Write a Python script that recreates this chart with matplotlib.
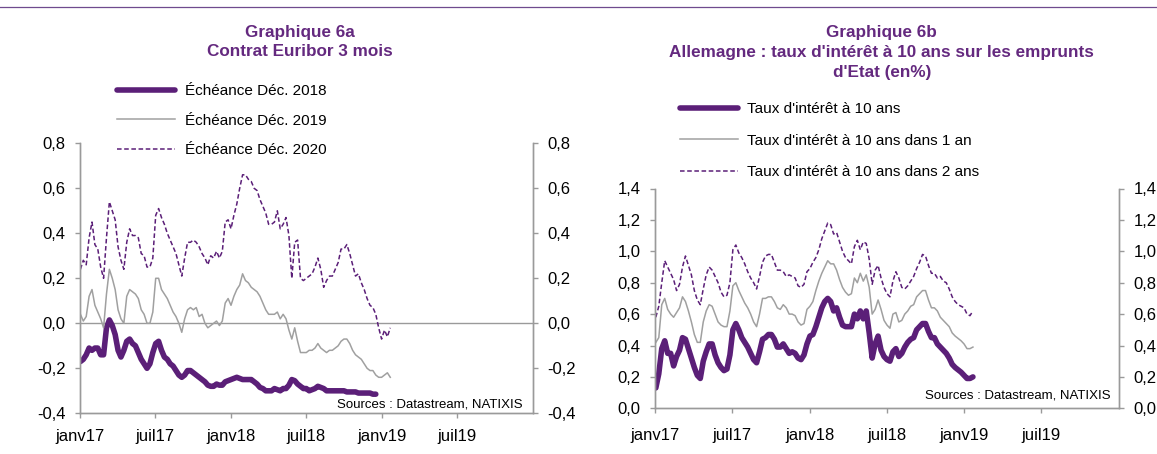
import numpy as np
import pandas as pd
import matplotlib
matplotlib.use('Agg')
import matplotlib.pyplot as plt
from matplotlib.lines import Line2D
from matplotlib.ticker import FuncFormatter, MultipleLocator

plt.rcParams['font.family'] = ['Liberation Sans', 'DejaVu Sans']

# ---------------- data ----------------
dates = pd.date_range('2017-01-02', periods=108, freq='7D')

# Graphique 6a : Contrat Euribor 3 mois
euribor_dec2018 = [
    -0.17, -0.16, -0.14, -0.11, -0.12, -0.11, -0.11, -0.14, -0.14, -0.02,
    0.015, -0.01, -0.05, -0.12, -0.15, -0.12, -0.08, -0.07, -0.09, -0.10,
    -0.13, -0.16, -0.18, -0.20, -0.18, -0.13, -0.09, -0.08, -0.12, -0.15,
    -0.16, -0.18, -0.19, -0.21, -0.23, -0.24, -0.23, -0.21, -0.21, -0.22,
    -0.23, -0.24, -0.25, -0.26, -0.275, -0.28, -0.28, -0.27, -0.275, -0.275,
    -0.26, -0.255, -0.25, -0.245, -0.24, -0.245, -0.25, -0.25, -0.25, -0.25,
    -0.26, -0.27, -0.285, -0.29, -0.30, -0.30, -0.30, -0.29, -0.295, -0.30,
    -0.29, -0.29, -0.275, -0.25, -0.255, -0.27, -0.28, -0.29, -0.29, -0.30,
    -0.295, -0.29, -0.28, -0.285, -0.29, -0.30, -0.30, -0.30, -0.30, -0.30,
    -0.30, -0.30, -0.305, -0.305, -0.305, -0.305, -0.31, -0.31, -0.31, -0.31,
    -0.31, -0.315, -0.315, np.nan, np.nan, np.nan, np.nan, np.nan]
euribor_dec2019 = [
    0.04, 0.01, 0.03, 0.12, 0.15, 0.08, 0.05, 0.02, -0.02, 0.13,
    0.24, 0.20, 0.15, 0.06, 0.02, 0.00, 0.12, 0.15, 0.14, 0.13,
    0.11, 0.06, 0.04, 0.00, 0.00, 0.05, 0.20, 0.20, 0.15, 0.13,
    0.11, 0.08, 0.05, 0.03, 0.00, -0.04, 0.02, 0.06, 0.07, 0.06,
    0.07, 0.03, 0.04, 0.00, -0.02, -0.01, 0.00, 0.01, -0.01, 0.01,
    0.09, 0.11, 0.08, 0.12, 0.15, 0.17, 0.22, 0.19, 0.18, 0.16,
    0.15, 0.14, 0.12, 0.09, 0.06, 0.04, 0.04, 0.04, 0.05, 0.02,
    0.04, 0.02, -0.03, -0.07, -0.02, -0.08, -0.13, -0.13, -0.13, -0.12,
    -0.12, -0.11, -0.09, -0.11, -0.12, -0.13, -0.12, -0.12, -0.11, -0.10,
    -0.08, -0.07, -0.07, -0.09, -0.12, -0.14, -0.15, -0.16, -0.18, -0.20,
    -0.21, -0.21, -0.23, -0.24, -0.24, -0.23, -0.22, -0.24]
euribor_dec2020 = [
    0.24, 0.28, 0.26, 0.38, 0.45, 0.35, 0.33, 0.25, 0.20, 0.38,
    0.54, 0.50, 0.46, 0.34, 0.28, 0.24, 0.36, 0.42, 0.39, 0.39,
    0.38, 0.31, 0.30, 0.25, 0.25, 0.29, 0.48, 0.51, 0.47, 0.44,
    0.40, 0.37, 0.34, 0.31, 0.26, 0.21, 0.29, 0.36, 0.36, 0.37,
    0.36, 0.34, 0.31, 0.29, 0.26, 0.30, 0.29, 0.32, 0.29, 0.32,
    0.45, 0.46, 0.42, 0.48, 0.53, 0.60, 0.66, 0.66, 0.64, 0.63,
    0.60, 0.59, 0.55, 0.52, 0.49, 0.44, 0.44, 0.45, 0.50, 0.42,
    0.44, 0.47, 0.39, 0.20, 0.36, 0.37, 0.20, 0.19, 0.20, 0.21,
    0.22, 0.25, 0.29, 0.24, 0.16, 0.19, 0.21, 0.21, 0.24, 0.27,
    0.33, 0.33, 0.35, 0.31, 0.26, 0.21, 0.22, 0.18, 0.15, 0.11,
    0.08, 0.07, 0.04, -0.02, -0.07, -0.03, -0.06, -0.02]

# Graphique 6b : Allemagne, taux a 10 ans
bund_10y = [
    0.13, 0.22, 0.38, 0.43, 0.35, 0.35, 0.27, 0.33, 0.37, 0.45,
    0.44, 0.38, 0.32, 0.26, 0.21, 0.19, 0.30, 0.36, 0.41, 0.41,
    0.34, 0.29, 0.26, 0.24, 0.25, 0.34, 0.50, 0.54, 0.50, 0.45,
    0.42, 0.39, 0.35, 0.31, 0.29, 0.36, 0.44, 0.45, 0.47, 0.47,
    0.44, 0.39, 0.39, 0.41, 0.38, 0.35, 0.36, 0.35, 0.32, 0.31,
    0.34, 0.41, 0.46, 0.47, 0.52, 0.58, 0.64, 0.68, 0.70, 0.68,
    0.62, 0.64, 0.58, 0.53, 0.52, 0.52, 0.52, 0.60, 0.57, 0.62,
    0.57, 0.62, 0.48, 0.32, 0.41, 0.46, 0.37, 0.33, 0.31, 0.30,
    0.36, 0.38, 0.33, 0.35, 0.39, 0.42, 0.44, 0.45, 0.50, 0.52,
    0.54, 0.54, 0.49, 0.45, 0.45, 0.41, 0.39, 0.37, 0.35, 0.32,
    0.28, 0.26, 0.245, 0.23, 0.21, 0.19, 0.19, 0.20]
bund_10y_in_1y = [
    0.42, 0.45, 0.66, 0.70, 0.63, 0.60, 0.58, 0.61, 0.64, 0.71,
    0.68, 0.62, 0.55, 0.47, 0.42, 0.42, 0.55, 0.62, 0.66, 0.65,
    0.60, 0.55, 0.53, 0.52, 0.52, 0.62, 0.78, 0.80, 0.75, 0.71,
    0.67, 0.64, 0.60, 0.55, 0.52, 0.60, 0.70, 0.70, 0.71, 0.71,
    0.68, 0.64, 0.63, 0.66, 0.64, 0.60, 0.60, 0.59, 0.55, 0.53,
    0.54, 0.63, 0.65, 0.68, 0.75, 0.81, 0.86, 0.90, 0.94, 0.92,
    0.92, 0.88, 0.82, 0.77, 0.74, 0.72, 0.73, 0.83, 0.80, 0.86,
    0.81, 0.85, 0.77, 0.60, 0.63, 0.69, 0.63, 0.56, 0.53, 0.51,
    0.60, 0.61, 0.55, 0.56, 0.60, 0.62, 0.65, 0.66, 0.71, 0.73,
    0.75, 0.75, 0.69, 0.64, 0.64, 0.62, 0.58, 0.56, 0.54, 0.52,
    0.48, 0.46, 0.445, 0.43, 0.41, 0.38, 0.38, 0.39]
bund_10y_in_2y = [
    0.58, 0.65, 0.80, 0.94, 0.90, 0.86, 0.82, 0.75, 0.79, 0.90,
    0.97, 0.91, 0.85, 0.75, 0.69, 0.66, 0.76, 0.85, 0.90, 0.88,
    0.84, 0.80, 0.74, 0.71, 0.72, 0.80, 1.01, 1.04, 0.99, 0.96,
    0.92, 0.87, 0.83, 0.80, 0.76, 0.84, 0.93, 0.97, 0.98, 0.98,
    0.93, 0.88, 0.88, 0.87, 0.84, 0.85, 0.84, 0.83, 0.78, 0.77,
    0.79, 0.87, 0.89, 0.93, 0.96, 1.01, 1.08, 1.13, 1.18, 1.17,
    1.11, 1.12, 1.06, 1.00, 0.96, 0.94, 0.92, 1.03, 1.07, 1.01,
    1.06, 1.05, 0.95, 0.79, 0.88, 0.91, 0.83, 0.77, 0.73, 0.71,
    0.81, 0.87, 0.83, 0.77, 0.76, 0.78, 0.81, 0.84, 0.89, 0.93,
    0.98, 0.97, 0.91, 0.86, 0.86, 0.83, 0.84, 0.81, 0.80, 0.76,
    0.71, 0.68, 0.66, 0.65, 0.64, 0.60, 0.59, 0.62]

tick_dates = ['2017-01-01', '2017-07-01', '2018-01-01', '2018-07-01', '2019-01-01', '2019-07-01']
tick_labels = ['janv17', 'juil17', 'janv18', 'juil18', 'janv19', 'juil19']

labels_6a = ['Échéance Déc. 2018', 'Échéance Déc. 2019', 'Échéance Déc. 2020']
labels_6b = ["Taux d'intérêt à 10 ans", "Taux d'intérêt à 10 ans dans 1 an",
             "Taux d'intérêt à 10 ans dans 2 ans"]

# ---------------- style ----------------
W, H = 1157, 454
PURPLE = '#5b1f78'
TITLE_PURPLE = '#64297f'
GREY_LINE = '#a0a0a0'
AXIS_GREY = '#9a9a9a'

fig = plt.figure(figsize=(W / 100, H / 100), dpi=100)
fig.patch.set_facecolor('white')


def fx(px):
    return px / W


def fy(py):
    return 1 - py / H


def comma_fmt(v, pos):
    s = f'{v:.1f}'.replace('.', ',')
    if s == '-0,0':
        s = '0,0'
    return s


xmin, xmax = pd.Timestamp('2017-01-01'), pd.Timestamp('2020-01-01')


def style_axes(ax, ylim, step, xpad):
    ax.set_xlim(xmin, xmax)
    ax.set_ylim(*ylim)
    ax.yaxis.set_major_locator(MultipleLocator(step))
    ax.yaxis.set_major_formatter(FuncFormatter(comma_fmt))
    ax.set_xticks(pd.to_datetime(tick_dates))
    ax.set_xticklabels(tick_labels)
    ax.spines['top'].set_visible(False)
    for s in ['left', 'right', 'bottom']:
        ax.spines[s].set_color(AXIS_GREY)
        ax.spines[s].set_linewidth(1.0)
    ax.tick_params(axis='both', direction='out', length=3.5, width=1.0,
                   color=AXIS_GREY, labelsize=12, labelcolor='black')
    ax.tick_params(axis='y', pad=7)
    ax.tick_params(axis='x', pad=xpad)
    twin = ax.twinx()
    twin.set_ylim(*ylim)
    twin.yaxis.set_major_locator(MultipleLocator(step))
    twin.yaxis.set_major_formatter(FuncFormatter(comma_fmt))
    twin.spines['top'].set_visible(False)
    for s in ['left', 'right', 'bottom']:
        twin.spines[s].set_color(AXIS_GREY)
        twin.spines[s].set_linewidth(1.0)
    twin.tick_params(axis='y', direction='out', length=3.5, width=1.0,
                     color=AXIS_GREY, labelsize=12, pad=7)
    return twin


def draw_series(ax, s1, s2, s3):
    l1, = ax.plot(dates, s1, color=PURPLE, lw=4.0, solid_capstyle='round',
                  solid_joinstyle='round')
    l2, = ax.plot(dates, s2, color=GREY_LINE, lw=1.1)
    l3, = ax.plot(dates, s3, color=PURPLE, lw=1.1, linestyle=(0, (3, 1.7)))
    return [l1, l2, l3]


# top rule
fig.add_artist(Line2D([0, 1], [fy(7), fy(7)], transform=fig.transFigure,
                      color='#6f4a8e', lw=0.9))

# ---------------- Graphique 6a ----------------
axL = fig.add_axes([fx(80), fy(413.3), fx(533) - fx(80), fy(143.3) - fy(413.3)])
style_axes(axL, (-0.4, 0.8), 0.2, 8)
axL.axhline(0, color=AXIS_GREY, lw=1.0, zorder=1)
hL = draw_series(axL, euribor_dec2018, euribor_dec2019, euribor_dec2020)
axL.text(0.978, 0.034, 'Sources : Datastream, NATIXIS', transform=axL.transAxes,
         ha='right', va='center', fontsize=9.5)

fig.text(fx(300), fy(32), 'Graphique 6a', ha='center', va='center',
         fontsize=12.3, fontweight='bold', color=TITLE_PURPLE)
fig.text(fx(300), fy(52), 'Contrat Euribor 3 mois', ha='center', va='center',
         fontsize=12.3, fontweight='bold', color=TITLE_PURPLE)

fig.legend(hL, labels_6a, loc='upper left', bbox_to_anchor=(fx(117), fy(84)),
           frameon=False, fontsize=11, handlelength=3.8, handletextpad=0.65,
           labelspacing=1.02, borderpad=0, borderaxespad=0)

# ---------------- Graphique 6b ----------------
axR = fig.add_axes([fx(655.4), fy(408.3), fx(1119) - fx(655.4), fy(188.5) - fy(408.3)])
style_axes(axR, (0.0, 1.4), 0.2, 11)
hR = draw_series(axR, bund_10y, bund_10y_in_1y, bund_10y_in_2y)
axR.text(0.983, 0.056, 'Sources : Datastream, NATIXIS', transform=axR.transAxes,
         ha='right', va='center', fontsize=9.5)

fig.text(fx(881.7), fy(32), 'Graphique 6b', ha='center', va='center',
         fontsize=12.3, fontweight='bold', color=TITLE_PURPLE)
fig.text(fx(881.7), fy(52), "Allemagne : taux d'intérêt à 10 ans sur les emprunts",
         ha='center', va='center', fontsize=12.3, fontweight='bold', color=TITLE_PURPLE)
fig.text(fx(881.7), fy(72), "d'Etat (en%)", ha='center', va='center',
         fontsize=12.3, fontweight='bold', color=TITLE_PURPLE)

fig.legend(hR, labels_6b, loc='upper left', bbox_to_anchor=(fx(680), fy(102.4)),
           frameon=False, fontsize=11, handlelength=3.8, handletextpad=0.6,
           labelspacing=1.14, borderpad=0, borderaxespad=0)

fig.savefig('out.png', dpi=100, facecolor='white')
